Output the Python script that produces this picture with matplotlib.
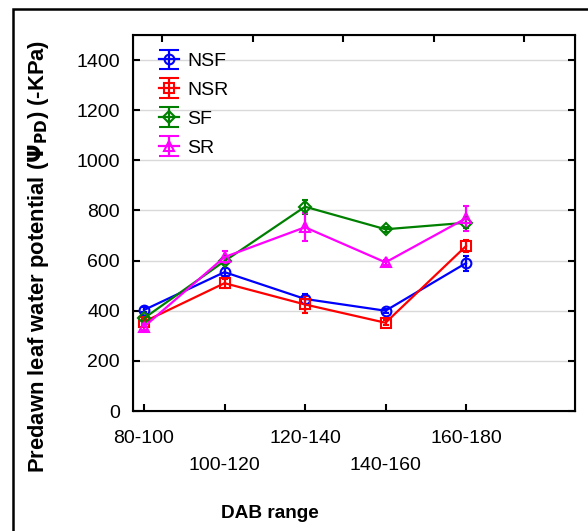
import matplotlib
matplotlib.use("Agg")
import matplotlib.pyplot as plt
from matplotlib.patches import Rectangle
from matplotlib.lines import Line2D

plt.rcParams['font.family'] = ['Liberation Sans', 'DejaVu Sans']

categories = ["80-100", "100-120", "120-140", "140-160", "160-180"]
nsf = [403, 554, 447, 400, 590]
nsf_err = [10, 15, 20, 8, 30]
nsr = [356, 510, 425, 352, 658]
nsr_err = [12, 18, 35, 10, 25]
sf = [370, 598, 815, 725, 751]
sf_err = [10, 12, 28, 10, 20]
sr = [336, 614, 733, 593, 769]
sr_err = [12, 25, 55, 10, 50]

series = [
    ("NSF", nsf, nsf_err, "#0000ff", "o"),
    ("NSR", nsr, nsr_err, "#ff0000", "s"),
    ("SF", sf, sf_err, "#008000", "D"),
    ("SR", sr, sr_err, "#ff00ff", "^"),
]

fig = plt.figure(figsize=(5.88, 5.31), dpi=100)
ax = fig.add_axes([133/588, 1-411/531, (575-133)/588, (411-35)/531])

x = list(range(len(categories)))
for name, vals, errs, col, mk in series:
    ax.errorbar(x, vals, yerr=errs, color=col, marker=mk, markersize=7 if mk != "D" else 6,
                markerfacecolor="none", markeredgecolor=col, markeredgewidth=1.5,
                lw=1.6, capsize=2.5, elinewidth=1.6, capthick=1.6, label=name, zorder=3)

ax.set_ylim(0, 1500)
ax.set_xlim(-0.137, 5.354)
ax.set_yticks(range(0, 1401, 200))
ax.set_xticks(x)
ax.set_xticklabels([c if i % 2 == 0 else "\n" + c for i, c in enumerate(categories)])
for t in ax.get_xticklabels():
    t.set_linespacing(1.7)
ax.tick_params(axis='both', labelsize=14, direction='in', length=5, width=1.5,
               right=True)
ax.tick_params(axis='x', pad=14)
ax.tick_params(axis='y', pad=9.5)
ax.grid(axis='y', color='#d9d9d9', lw=1, zorder=0)
ax.set_axisbelow(True)
for s in ax.spines.values():
    s.set_linewidth(1.5)

ax2 = ax.twiny()
ax2.set_xlim(ax.get_xlim())
ax2.set_xticks([0.224, 1.35, 2.47, 3.6, 4.72])
ax2.set_xticklabels([])
ax2.tick_params(axis='x', direction='in', length=5, width=1.5)

ax.set_ylabel(r"Predawn leaf water potential ($\mathbf{\Psi_{PD}}$) (-KPa)",
              fontsize=15.8, fontweight='bold')
ax.yaxis.set_label_coords(-0.186, 0.41)
ax.set_xlabel("DAB range", fontsize=13.7, fontweight='bold')
ax.xaxis.set_label_coords(0.31, -0.25)

leg = ax.legend(loc='upper left', frameon=False, fontsize=14, handlelength=1.0,
                handletextpad=0.45, labelspacing=0.58, bbox_to_anchor=(0.02, 1.0))
for ln in leg.findobj(Line2D):
    if ln.get_marker() == '_':
        ln.set_markersize(14)

fig.add_artist(Rectangle((13/588, -0.1), 1.2, 1 - 9/531 + 0.1, fill=False,
                         lw=1.8, edgecolor='black', transform=fig.transFigure))

fig.savefig("out.png", dpi=100)
